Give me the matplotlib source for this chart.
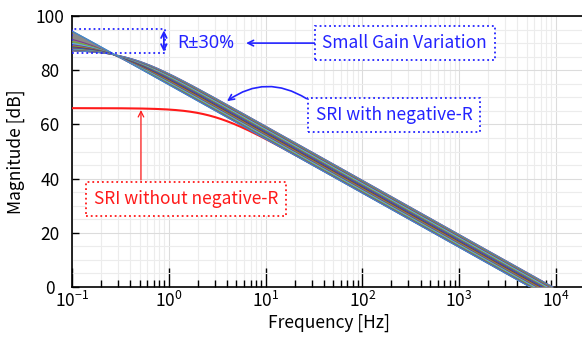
import numpy as np
import matplotlib
matplotlib.use("Agg")
import matplotlib.pyplot as plt
from matplotlib.patches import Rectangle
from matplotlib.ticker import MultipleLocator, LogLocator

plt.rcParams['font.family'] = ['Noto Sans CJK KR', 'DejaVu Sans']

# read-off parameters of the swept responses (SRI with negative-R, R +-30%)
band_dc_gain_db = [108.0, 93.8, 92.3, 91.2, 90.4, 89.8, 89.3, 88.9, 88.55, 88.25, 88.0, 87.77, 87.58, 87.4]
band_unity_hz = [5400, 5631, 5871, 6122, 6383, 6656, 6940, 7236, 7545, 7867, 8203, 8553, 8919, 9300]

# SRI without negative-R
red_dc_gain_db = 66.0
red_unity_hz = 5600

x_ticks = [1e-1, 1e0, 1e1, 1e2, 1e3, 1e4]
y_ticks = [0, 20, 40, 60, 80, 100]

matlab_colors = ["#0072BD", "#7E2F8E", "#77AC30", "#4DBEEE", "#7E2F8E", "#77AC30", "#A2142F"]
blue = "#2323ff"
red = "#ff1a1a"

freq = np.logspace(-1, np.log10(2e4), 600)


def mag_db(f, dc_db, fu):
    fc = fu / 10 ** (dc_db / 20)
    return dc_db - 10 * np.log10(1 + (f / fc) ** 2)


fig = plt.figure(figsize=(5.82, 3.44), dpi=100)
ax = fig.add_axes([72 / 582, 57 / 344, 513 / 582, 271 / 344])

ax.semilogx(freq, mag_db(freq, red_dc_gain_db, red_unity_hz), color=red, lw=1.5, zorder=3)

curves = np.array([mag_db(freq, g, fu) for g, fu in zip(band_dc_gain_db, band_unity_hz)])
ax.fill_between(freq, curves.min(axis=0), curves.max(axis=0), color="#8a8a8a", lw=0, zorder=4)
for i, c in enumerate(curves):
    ax.semilogx(freq, c, color=matlab_colors[i % 7], lw=0.8, alpha=0.9, zorder=4)
ax.semilogx(freq, curves[-1], color="#4f86c6", lw=0.8, zorder=4)
ax.semilogx(freq, curves[0], color="#4f86c6", lw=0.8, zorder=4)

ax.set_xlim(0.1, 2e4)
ax.set_ylim(0, 100)
ax.set_xticks(x_ticks)
ax.set_yticks(y_ticks)
ax.xaxis.set_minor_locator(LogLocator(base=10, subs=np.arange(2, 10), numticks=20))
ax.yaxis.set_minor_locator(MultipleLocator(5))
ax.grid(True, which='major', color='#dcdcdc', lw=0.8)
ax.grid(True, which='minor', color='#ececec', lw=0.8)
ax.set_axisbelow(True)

ax.tick_params(axis='x', which='major', direction='in', length=14, width=1.0, labelsize=12.5, pad=3)
ax.tick_params(axis='x', which='minor', direction='in', length=5, width=1.0)
ax.tick_params(axis='y', which='major', direction='in', length=5, width=1.0, labelsize=12.5, pad=15.8)
ax.tick_params(axis='y', which='minor', length=0)
for lab in ax.get_yticklabels():
    lab.set_horizontalalignment('center')
for s in ax.spines.values():
    s.set_linewidth(1.2)

ax.set_xlabel("Frequency [Hz]", fontsize=12.5, labelpad=2)
ax.set_ylabel("Magnitude [dB]", fontsize=12.5)
ax.yaxis.set_label_coords(-0.092, 0.5)

# R +-30% region
ax.add_patch(Rectangle((0.1, 86.3), 0.81, 8.9, fill=False, ec=blue, ls=':', lw=1.3, zorder=5))
ax.annotate("", xy=(0.89, 94.7), xytext=(0.89, 86.8),
            arrowprops=dict(arrowstyle='<->', color=blue, lw=1.3, shrinkA=0, shrinkB=0))
ax.text(2.42, 90, "R±30%", color=blue, fontsize=13, ha='center', va='center',
        family=['Noto Sans', 'DejaVu Sans'])

box = dict(boxstyle='square,pad=0.45', fc='white', ec=blue, ls=':', lw=1.3)
ax.text(275, 90, "Small Gain Variation", color=blue, fontsize=12.5, ha='center', va='center', bbox=box, zorder=6)
ax.annotate("", xy=(6.3, 90), xytext=(34.7, 90),
            arrowprops=dict(arrowstyle='->', color=blue, lw=1.2, shrinkA=0, shrinkB=0))

ax.text(214, 63.5, "SRI with negative-R", color=blue, fontsize=12.5, ha='center', va='center', bbox=box, zorder=6)
ax.annotate("", xy=(4.0, 68.6), xytext=(26.5, 69.5),
            arrowprops=dict(arrowstyle='->', color=blue, lw=1.2, shrinkA=0, shrinkB=0,
                            connectionstyle='arc3,rad=0.33'), zorder=6)

rbox = dict(boxstyle='square,pad=0.45', fc='white', ec=red, ls=':', lw=1.3)
ax.text(1.51, 32.5, "SRI without negative-R", color=red, fontsize=12.5, ha='center', va='center', bbox=rbox, zorder=6)
ax.annotate("", xy=(0.516, 65.3), xytext=(0.516, 39.5),
            arrowprops=dict(arrowstyle='->', color=red, lw=0.9, shrinkA=0, shrinkB=0), zorder=6)

fig.savefig("out.png", dpi=100)
